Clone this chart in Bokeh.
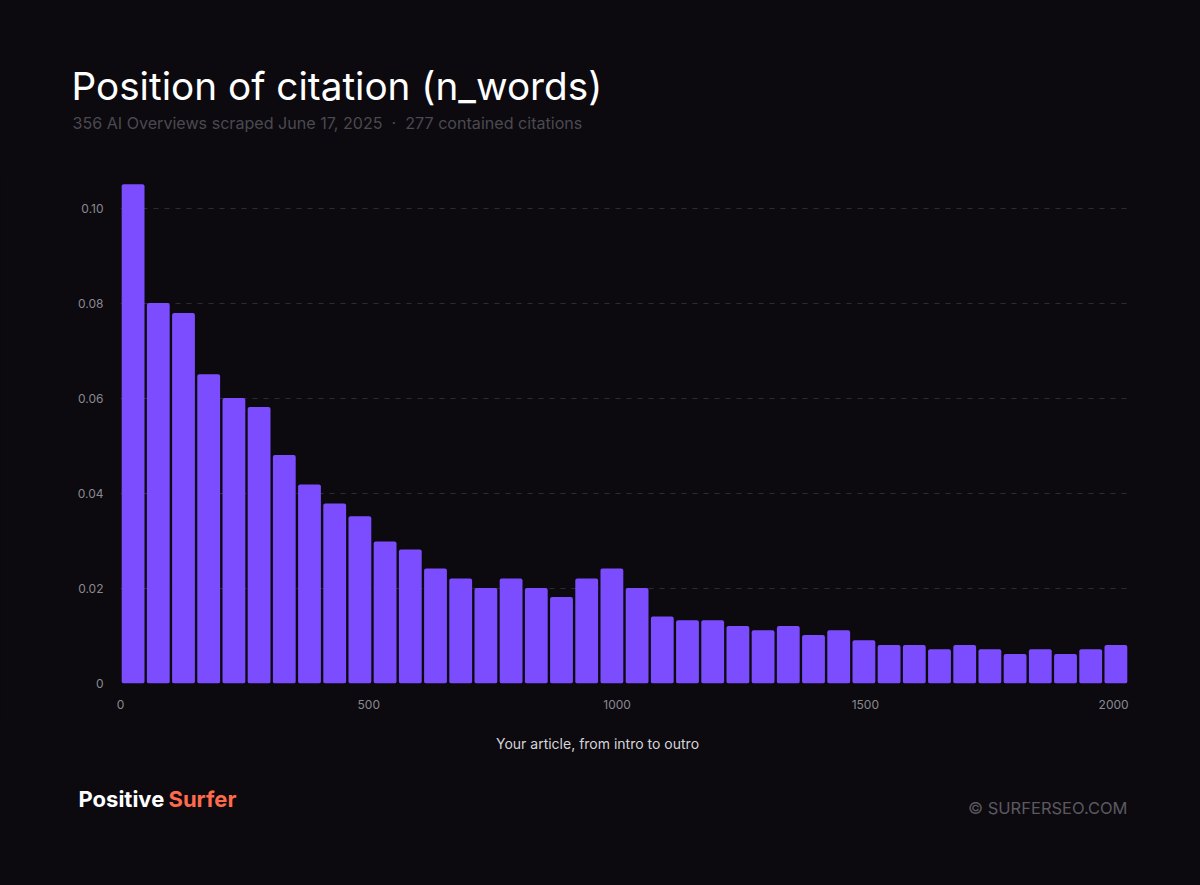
import numpy as np
from bokeh.plotting import figure
from bokeh.layouts import column
from bokeh.models import ColumnDataSource, FixedTicker, Range1d
from bokeh.core.properties import value
from bokeh.embed import file_html
from bokeh.resources import INLINE

# ---- data ----
x_max = 2030
n_bins = 40
shares = [0.1051, 0.0801, 0.0780, 0.0651, 0.0601, 0.0582, 0.0481, 0.0419, 0.0379, 0.0352,
          0.0299, 0.0282, 0.0242, 0.0221, 0.0201, 0.0221, 0.0201, 0.0182, 0.0221, 0.0242,
          0.0201, 0.0141, 0.0133, 0.0133, 0.0121, 0.0112, 0.0121, 0.0102, 0.0112, 0.0091,
          0.0081, 0.0081, 0.0072, 0.0081, 0.0072, 0.0062, 0.0072, 0.0062, 0.0072, 0.0081]
x_ticks = [0, 500, 1000, 1500, 2000]
y_ticks = [0, 0.02, 0.04, 0.06, 0.08, 0.10]
y_tick_labels = ["0", "0.02", "0.04", "0.06", "0.08", "0.10"]

title_text = "Position of citation (n_words)"
subtitle_text = "356 AI Overviews scraped June 17, 2025\u00a0\u00a0\u00b7\u00a0\u00a0277 contained citations"
xlabel_text = "Your article, from intro to outro"
brand_a = "Positive"
brand_b = "Surfer"
credit_text = "\u00a9 SURFERSEO.COM"

BG = "#0c0a0f"
BAR = "#7c4dff"
FONT = "Inter"
W = 1200
HEAD_H = 170     # page y 0..170
MAIN_H = 550     # page y 170..720
FOOT_H = 885 - HEAD_H - MAIN_H  # page y 720..885

# ---- header (title + subtitle) ----
head = figure(width=W, height=HEAD_H, output_backend="svg", toolbar_location=None,
              x_range=Range1d(0, W), y_range=Range1d(HEAD_H, 0),
              x_axis_location=None, y_axis_location=None, frame_align=False,
              min_border=0, background_fill_color=BG, border_fill_color=BG)
head.outline_line_color = None
head.grid.visible = False
head.text(x=[71], y=[85], text=[title_text], text_font=value(FONT),
          text_font_size="38.7px", text_color="#ffffff", text_baseline="middle")
head.text(x=[72], y=[122.5], text=[subtitle_text], text_font=value(FONT),
          text_font_size="16.1px", text_color="#4b4950", text_baseline="middle")

# ---- main histogram ----
bin_w = x_max / n_bins
centers = (np.arange(n_bins) + 0.5) * bin_w
src = ColumnDataSource(dict(x=centers, top=shares))

FL, FR, FB = 120, 1128, 513
p = figure(width=W, height=MAIN_H, output_backend="svg", toolbar_location=None,
           x_range=Range1d(0, x_max), y_range=Range1d(0, 0.108),
           min_border_left=FL, min_border_right=W - FR, frame_align=False,
           min_border_top=0, min_border_bottom=MAIN_H - FB,
           background_fill_color=BG, border_fill_color=BG)
p.outline_line_color = None

p.vbar(x="x", top="top", bottom=0, width=bin_w * 0.905, source=src,
       fill_color=BAR, line_color=None, border_radius=2)

p.xgrid.visible = False
p.ygrid.ticker = FixedTicker(ticks=y_ticks[1:])
p.ygrid.grid_line_color = "#2e2c33"
p.ygrid.grid_line_dash = "5 6"
p.ygrid.grid_line_width = 1

for ax in (p.xaxis[0], p.yaxis[0]):
    ax.axis_line_color = None
    ax.major_tick_line_color = None
    ax.minor_tick_line_color = None
    ax.major_tick_out = 0
    ax.major_tick_in = 0
    ax.major_label_text_color = "#8a898f"
    ax.major_label_text_font = FONT
    ax.major_label_text_font_size = "12px"

p.xaxis.ticker = FixedTicker(ticks=x_ticks)
p.xaxis.major_label_standoff = 16
p.yaxis.ticker = FixedTicker(ticks=y_ticks)
p.yaxis.major_label_overrides = {t: l for t, l in zip(y_ticks, y_tick_labels)}
p.yaxis.major_label_standoff = 17

# ---- footer (axis caption + brand + credit) ----
foot = figure(width=W, height=FOOT_H, output_backend="svg", toolbar_location=None,
              x_range=Range1d(0, W), y_range=Range1d(885, HEAD_H + MAIN_H),
              x_axis_location=None, y_axis_location=None, frame_align=False,
              min_border=0, background_fill_color=BG, border_fill_color=BG)
foot.outline_line_color = None
foot.grid.visible = False
foot.text(x=[597], y=[743], text=[xlabel_text], text_font=value(FONT),
          text_font_size="14px", text_color="#d6d5da", text_align="center",
          text_baseline="middle")
foot.text(x=[78], y=[798], text=[brand_a], text_font=value(FONT),
          text_font_size="22px", text_color="#ffffff", text_font_style="bold",
          text_baseline="middle")
foot.text(x=[168], y=[798], text=[brand_b], text_font=value(FONT),
          text_font_size="22px", text_color="#ff6a4d", text_font_style="bold",
          text_baseline="middle")
foot.text(x=[1127], y=[807.5], text=[credit_text], text_font=value(FONT),
          text_font_size="16.5px", text_color="#5b5960", text_align="right",
          text_baseline="middle")

layout = column(head, p, foot, spacing=0)
html = file_html(layout, INLINE)
html = html.replace("<body>", '<body style="background:%s">' % BG)
open("out.html", "w").write(html)
